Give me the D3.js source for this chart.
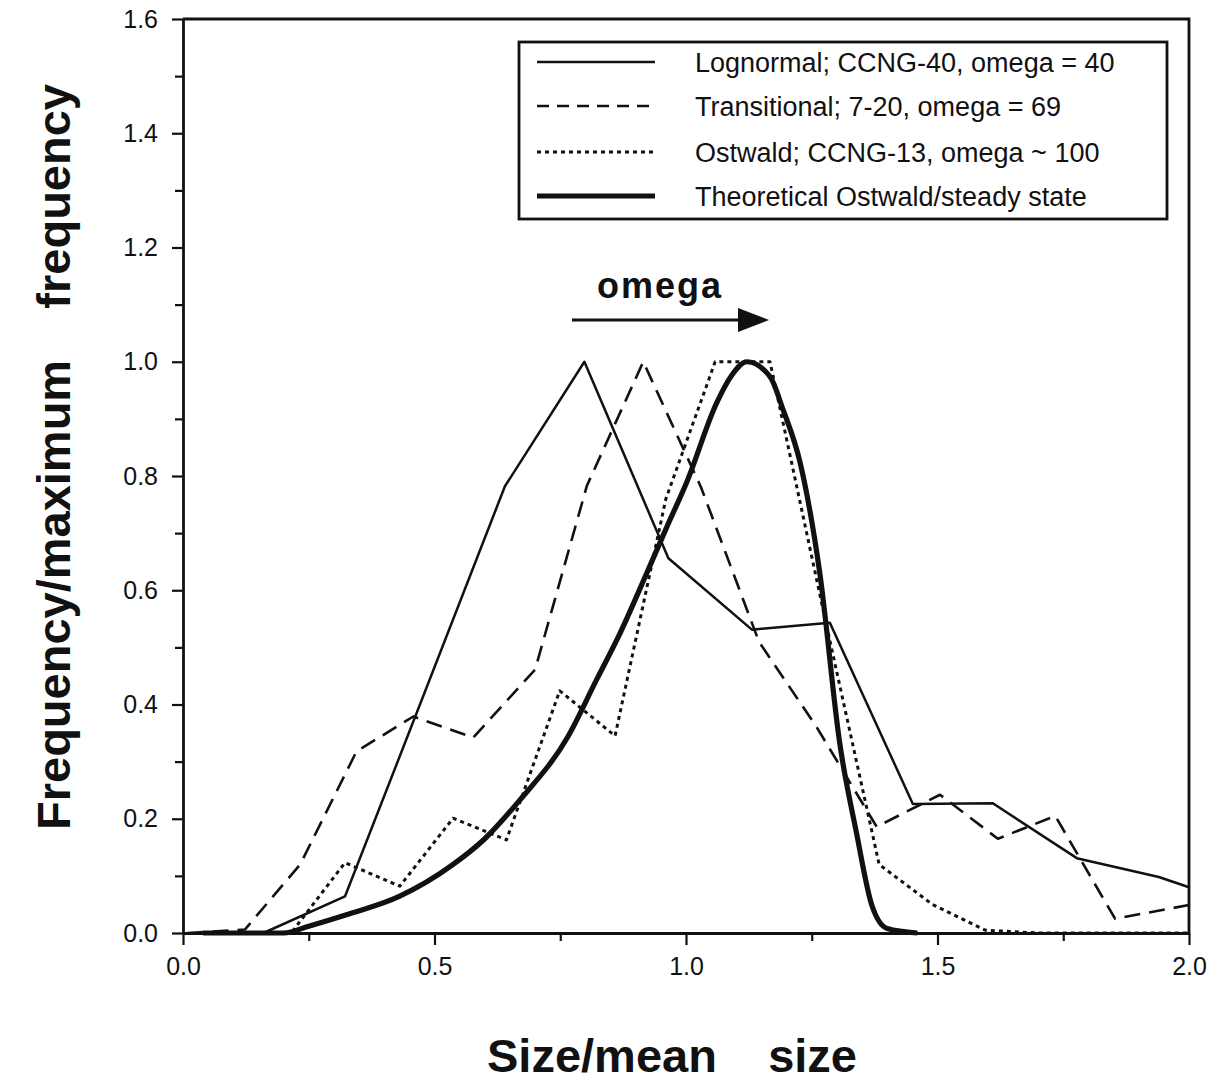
<!DOCTYPE html>
<html>
<head>
<meta charset="utf-8">
<script src="https://cdn.jsdelivr.net/npm/d3@7"></script>
<style>
  html, body { margin: 0; padding: 0; background: #fff; }
  #chart svg { display: block; }
</style>
</head>
<body>
<div id="chart"></div>
<script>
// ===============================================
// Normalised size distributions vs. omega
// ===============================================

// Lognormal; CCNG-40, omega = 40
const lognormalX = [0.16, 0.322, 0.48, 0.64, 0.798, 0.965, 1.131, 1.286, 1.451, 1.61, 1.777, 1.94, 2.0];
const lognormalY = [0.0, 0.064, 0.42, 0.782, 1.0, 0.656, 0.531, 0.543, 0.226, 0.227, 0.131, 0.098, 0.08];

// Transitional; 7-20, omega = 69
const transX = [0.009, 0.123, 0.233, 0.345, 0.458, 0.577, 0.70, 0.803, 0.915, 1.03, 1.145, 1.26, 1.379, 1.505, 1.62, 1.734, 1.853, 2.0];
const transY = [0.0, 0.006, 0.12, 0.318, 0.379, 0.342, 0.461, 0.783, 1.0, 0.78, 0.51, 0.36, 0.186, 0.242, 0.165, 0.205, 0.025, 0.049];

// Ostwald; CCNG-13, omega ~ 100
const ostwaldX = [0.108, 0.215, 0.322, 0.431, 0.537, 0.643, 0.749, 0.859, 0.96, 1.058, 1.167, 1.274, 1.384, 1.49, 1.595, 1.70, 1.80, 1.90, 2.0];
const ostwaldY = [0.0, 0.0, 0.123, 0.082, 0.201, 0.163, 0.424, 0.345, 0.76, 1.0, 1.0, 0.56, 0.12, 0.05, 0.005, 0.0, 0.0, 0.0, 0.0];

// Theoretical Ostwald/steady state
const theoryX = [0.04, 0.20, 0.25, 0.325, 0.43, 0.537, 0.60, 0.667, 0.766, 0.822, 0.869, 0.922, 0.962, 1.001, 1.061, 1.09, 1.121, 1.167, 1.193, 1.227, 1.266, 1.306, 1.339, 1.369, 1.40, 1.46];
const theoryY = [0.0, 0.0, 0.012, 0.032, 0.064, 0.12, 0.165, 0.23, 0.345, 0.443, 0.525, 0.63, 0.711, 0.788, 0.928, 0.975, 1.0, 0.974, 0.916, 0.823, 0.63, 0.33, 0.175, 0.05, 0.008, 0.0];

const legendLabels = [
  "Lognormal; CCNG-40, omega = 40",
  "Transitional; 7-20, omega = 69",
  "Ostwald; CCNG-13, omega ~ 100",
  "Theoretical Ostwald/steady state"
];

const xMajorTicks = [0, 0.5, 1.0, 1.5, 2.0];
const xMinorTicks = [0.25, 0.75, 1.25, 1.75];
const yMajorTicks = [0, 0.2, 0.4, 0.6, 0.8, 1.0, 1.2, 1.4, 1.6];
const yMinorTicks = [0.1, 0.3, 0.5, 0.7, 0.9, 1.1, 1.3, 1.5];

(function() {
  'use strict';

  const width = 1228;
  const height = 1084;
  const margin = { top: 19, right: 39, bottom: 151, left: 183 };
  const font = "'Liberation Sans', Arial, Helvetica, sans-serif";
  const ink = "#111";

  const svg = d3.select("#chart")
    .append("svg")
    .attr("width", width)
    .attr("height", height)
    .attr("viewBox", [0, 0, width, height]);

  svg.append("rect")
    .attr("width", width)
    .attr("height", height)
    .attr("fill", "#fff");

  const x = d3.scaleLinear()
    .domain([0, 2])
    .range([margin.left, width - margin.right]);

  const y = d3.scaleLinear()
    .domain([0, 1.6])
    .range([height - margin.bottom, margin.top]);

  // Series styles
  const series = [
    { xs: lognormalX, ys: lognormalY, width: 2.5, dash: null },
    { xs: transX, ys: transY, width: 2.6, dash: "16,9" },
    { xs: ostwaldX, ys: ostwaldY, width: 3, dash: "4,4" },
    { xs: theoryX, ys: theoryY, width: 5.2, dash: null, smooth: true }
  ];

  // Minor ticks first (no labels)
  svg.append("g")
    .attr("transform", `translate(0,${y(0)})`)
    .call(d3.axisBottom(x).tickValues(xMinorTicks).tickSize(8).tickFormat(""))
    .call(g => g.select(".domain").remove());

  svg.append("g")
    .attr("transform", `translate(${x(0)},0)`)
    .call(d3.axisLeft(y).tickValues(yMinorTicks).tickSize(8).tickFormat(""))
    .call(g => g.select(".domain").remove());

  // Major axes
  const xAxis = svg.append("g")
    .attr("transform", `translate(0,${y(0)})`)
    .call(d3.axisBottom(x).tickValues(xMajorTicks).tickSize(12).tickSizeOuter(0)
      .tickPadding(12).tickFormat(d3.format(".1f")));

  const yAxis = svg.append("g")
    .attr("transform", `translate(${x(0)},0)`)
    .call(d3.axisLeft(y).tickValues(yMajorTicks).tickSize(11).tickSizeOuter(0)
      .tickPadding(14).tickFormat(d3.format(".1f")));

  [xAxis, yAxis].forEach(g => {
    g.selectAll("text")
      .attr("font-family", font)
      .attr("font-size", "25px")
      .attr("fill", ink);
  });

  svg.selectAll(".tick line").attr("stroke", ink).attr("stroke-width", 2.2);
  svg.selectAll(".domain").attr("stroke", ink).attr("stroke-width", 2.8);

  // Frame top + right
  svg.append("path")
    .attr("d", `M${x(0)},${y(1.6)}H${x(2)}V${y(0)}`)
    .attr("fill", "none")
    .attr("stroke", ink)
    .attr("stroke-width", 2.8);

  // Draw lines
  const lineGen = d3.line()
    .x(d => x(d[0]))
    .y(d => y(d[1]));

  series.forEach(s => {
    const pts = s.xs.map((v, i) => [v, s.ys[i]]);
    svg.append("path")
      .datum(pts)
      .attr("d", lineGen.curve(s.smooth ? d3.curveMonotoneX : d3.curveLinear))
      .attr("fill", "none")
      .attr("stroke", ink)
      .attr("stroke-width", s.width)
      .attr("stroke-linejoin", "round")
      .attr("stroke-dasharray", s.dash);
  });

  // Legend
  const legend = svg.append("g");
  legend.append("rect")
    .attr("x", 519)
    .attr("y", 42)
    .attr("width", 648)
    .attr("height", 177)
    .attr("fill", "#fff")
    .attr("stroke", ink)
    .attr("stroke-width", 2.8);

  const rowY = [62, 106, 152, 196];
  legendLabels.forEach((label, i) => {
    legend.append("line")
      .attr("x1", 537)
      .attr("x2", 655)
      .attr("y1", rowY[i])
      .attr("y2", rowY[i])
      .attr("stroke", ink)
      .attr("stroke-width", series[i].width)
      .attr("stroke-dasharray", i === 1 ? "12,8" : series[i].dash);

    legend.append("text")
      .attr("x", 695)
      .attr("y", rowY[i])
      .attr("dy", "0.36em")
      .attr("font-family", font)
      .attr("font-size", "27px")
      .attr("fill", ink)
      .text(label);
  });

  // omega arrow annotation
  svg.append("text")
    .attr("x", 597)
    .attr("y", 298)
    .attr("font-family", font)
    .attr("font-size", "36px")
    .attr("font-weight", "bold")
    .attr("letter-spacing", "2px")
    .attr("fill", ink)
    .text("omega");

  svg.append("line")
    .attr("x1", 572)
    .attr("x2", 745)
    .attr("y1", 320)
    .attr("y2", 320)
    .attr("stroke", ink)
    .attr("stroke-width", 2.8);

  svg.append("path")
    .attr("d", "M738,308 L769,320 L738,332 Z")
    .attr("fill", ink);

  // Axis titles
  const title = (sel) => sel
    .attr("font-family", font)
    .attr("font-size", "47px")
    .attr("font-weight", "bold")
    .attr("fill", ink);

  svg.append("text")
    .attr("x", 487)
    .attr("y", 1072)
    .call(title)
    .text("Size/mean");

  svg.append("text")
    .attr("x", 857)
    .attr("y", 1072)
    .attr("text-anchor", "end")
    .call(title)
    .text("size");

  svg.append("text")
    .attr("transform", "translate(70,830) rotate(-90)")
    .call(title)
    .text("Frequency/maximum");

  svg.append("text")
    .attr("transform", "translate(70,84) rotate(-90)")
    .attr("text-anchor", "end")
    .call(title)
    .text("frequency");
})();
</script>
</body>
</html>
